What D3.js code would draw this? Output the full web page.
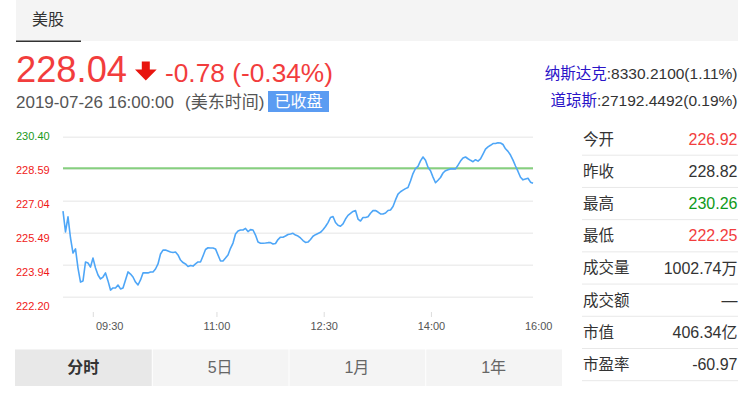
<!DOCTYPE html>
<html>
<head>
<meta charset="utf-8">
<script src="https://cdn.jsdelivr.net/npm/d3@7/dist/d3.min.js"></script>
<style>
  html, body { margin: 0; padding: 0; background: #fff; }
  svg { display: block; font-family: Arial, "Liberation Sans", "Noto Sans CJK SC", sans-serif; }
</style>
</head>
<body>
<svg id="chart" width="749" height="394"></svg>
<script>
// ---------- DATA ----------
const tabTitle = "美股";
const lastPrice = "228.04";
const change = "-0.78 (-0.34%)";
const dateText = "2019-07-26 16:00:00";
const tzText = "(美东时间)";
const statusText = "已收盘";
const indexNames = ["纳斯达克", "道琼斯"];
const indexValues = [":8330.2100(1.11%)", ":27192.4492(0.19%)"];

const prevClose = 228.82;
const yDomain = [222.20, 230.40];
const yTickLabels = ["230.40", "228.59", "227.04", "225.49", "223.94", "222.20"];
const xTickLabels = ["09:30", "11:00", "12:30", "14:00", "16:00"];

const prices = [
  226.62, 225.55, 226.32, 225.24, 224.47, 224.68, 223.70, 222.98, 223.04, 224.01,
  223.96, 223.75, 224.21, 223.70, 223.34, 223.14, 223.24, 223.45, 223.04, 222.57,
  222.68, 222.68, 222.83, 222.63, 222.68, 223.09, 223.50, 223.39, 223.24, 222.98,
  222.83, 223.09, 223.45, 223.45, 223.45, 223.50, 223.50, 223.65, 223.91, 224.42,
  224.62, 224.62, 224.57, 224.52, 224.50, 224.52, 224.37, 224.11, 223.98, 223.91,
  223.78, 223.83, 223.80, 223.91, 224.01, 224.01, 224.32, 224.65, 224.74, 224.73,
  224.73, 224.68, 224.37, 224.06, 224.06, 224.21, 224.37, 224.71, 224.98, 225.44,
  225.60, 225.65, 225.65, 225.73, 225.57, 225.67, 225.65, 225.39, 225.03, 224.97,
  224.97, 224.98, 225.00, 225.00, 224.93, 224.96, 225.16, 225.28, 225.28, 225.34,
  225.42, 225.44, 225.48, 225.39, 225.34, 225.24, 225.11, 225.01, 225.03, 225.16,
  225.33, 225.41, 225.47, 225.53, 225.66, 225.83, 226.03, 226.29, 226.34, 226.03,
  225.89, 225.84, 225.96, 226.21, 226.40, 226.50, 226.60, 226.65, 226.21, 226.11,
  226.29, 226.29, 226.33, 226.51, 226.64, 226.65, 226.57, 226.47, 226.47, 226.52,
  226.65, 226.67, 226.85, 227.19, 227.49, 227.61, 227.69, 227.77, 227.83, 228.16,
  228.54, 228.80, 228.91, 229.19, 229.39, 229.22, 228.86, 228.69, 228.36, 228.07,
  228.20, 228.34, 228.57, 228.69, 228.74, 228.78, 228.79, 228.78, 228.97, 229.18,
  229.34, 229.39, 229.30, 229.22, 229.15, 229.25, 229.18, 229.29, 229.54, 229.79,
  229.91, 229.99, 230.08, 230.08, 230.12, 230.11, 230.03, 229.81, 229.68, 229.49,
  229.23, 228.93, 228.65, 228.35, 228.22, 228.26, 228.30, 228.10, 228.04
];

const statLabels = ["今开", "昨收", "最高", "最低", "成交量", "成交额", "市值", "市盈率"];
const statValues = ["226.92", "228.82", "230.26", "222.25", "1002.74万", "—", "406.34亿", "-60.97"];
const statColors = ["#f23d3d", "#333", "#0e9a1a", "#f23d3d", "#333", "#333", "#333", "#333"];

const tabs = ["分时", "5日", "1月", "1年"];

// ---------- DRAW ----------
const svg = d3.select("#chart");
const red = "#f23d3d";

// header bar
svg.append("rect").attr("x", 16).attr("y", 0).attr("width", 722).attr("height", 41).attr("fill", "#f4f4f4");
svg.append("rect").attr("x", 16).attr("y", 40.5).attr("width", 65).attr("height", 1.5).attr("fill", "#333");
svg.append("text").attr("x", 32).attr("y", 19).attr("dy", "0.35em")
  .attr("font-size", 16).attr("fill", "#333").text(tabTitle);

// price
svg.append("text").attr("x", 16).attr("y", 82)
  .attr("font-size", 37).attr("fill", red)
  .attr("textLength", 111).attr("lengthAdjust", "spacingAndGlyphs")
  .text(lastPrice);

// arrow
svg.append("path")
  .attr("d", "M141.8,61.5 L149.8,61.5 L149.8,69.5 L156.7,69.5 L145.8,80.5 L135,69.5 L141.8,69.5 Z")
  .attr("fill", "#e8150f");

svg.append("text").attr("x", 165).attr("y", 81.5)
  .attr("font-size", 25.5).attr("fill", red)
  .attr("textLength", 168).attr("lengthAdjust", "spacingAndGlyphs")
  .text(change);

// date line
svg.append("text").attr("x", 16).attr("y", 102).attr("dy", "0.35em")
  .attr("font-size", 17).attr("fill", "#555").text(dateText);
svg.append("text").attr("x", 185).attr("y", 102).attr("dy", "0.35em")
  .attr("font-size", 17).attr("fill", "#555").text(tzText);
svg.append("rect").attr("x", 268).attr("y", 91).attr("width", 61).attr("height", 21).attr("fill", "#5b9cf2");
svg.append("text").attr("x", 298.5).attr("y", 101.5).attr("dy", "0.35em")
  .attr("text-anchor", "middle").attr("font-size", 16).attr("fill", "#fff").text(statusText);

// indexes
const idxY = [73.5, 100.5];
indexNames.forEach((n, i) => {
  const t = svg.append("text").attr("x", 737.5).attr("y", idxY[i]).attr("dy", "0.35em")
    .attr("text-anchor", "end").attr("font-size", 15.5);
  t.append("tspan").attr("fill", "#2b14c8").text(n);
  t.append("tspan").attr("fill", "#333").text(indexValues[i]);
});

// chart scales
const x = d3.scaleLinear().domain([0, prices.length - 1]).range([63, 533]);
const y = d3.scaleLinear().domain(yDomain).range([297.3, 137.3]);

// gridlines
const gridVals = d3.range(6).map(i => yDomain[0] + i * (yDomain[1] - yDomain[0]) / 5);
svg.append("g").selectAll("line").data(gridVals).join("line")
  .attr("x1", 63).attr("x2", 533)
  .attr("y1", d => y(d)).attr("y2", d => y(d))
  .attr("stroke", "#eeeeee").attr("stroke-width", 1.6);

// y labels
const yLab = d3.scalePoint().domain(yTickLabels).range([135.7, 306]);
svg.append("g").selectAll("text").data(yTickLabels).join("text")
  .attr("x", 16).attr("y", d => yLab(d)).attr("dy", "0.35em")
  .attr("font-size", 11)
  .attr("fill", d => (+d > prevClose ? "#1a9a1a" : "#f01818"))
  .text(d => d);

// prev close line
svg.append("line").attr("x1", 63).attr("x2", 533)
  .attr("y1", y(prevClose)).attr("y2", y(prevClose))
  .attr("stroke", "#86cf7f").attr("stroke-width", 2);

// price line
svg.append("path").datum(prices)
  .attr("d", d3.line().x((d, i) => x(i)).y(d => y(d)))
  .attr("fill", "none").attr("stroke", "#4ea6f7").attr("stroke-width", 1.6)
  .attr("stroke-linejoin", "round");

// x axis
const xLab = d3.scalePoint().domain(xTickLabels).range([109.7, 538.7]);
const xg = svg.append("g");
xTickLabels.forEach((l, i) => {
  const px = xLab(l);
  if (i < xTickLabels.length - 1) {
    const tx = i === 0 ? px - 16.4 : px;
    xg.append("line").attr("x1", tx).attr("x2", tx).attr("y1", 312).attr("y2", 317)
      .attr("stroke", "#dddddd").attr("stroke-width", 1);
  }
  xg.append("text").attr("x", px).attr("y", 326.5).attr("dy", "0.35em")
    .attr("text-anchor", "middle").attr("font-size", 11).attr("fill", "#555").text(l);
});

// stats panel
const rowScale = d3.scaleBand().domain(statLabels).range([123, 380.7]);
const sg = svg.append("g");
statLabels.forEach((l, i) => {
  const top = rowScale(l), h = rowScale.bandwidth();
  sg.append("text").attr("x", 583).attr("y", top + h / 2).attr("dy", "0.35em")
    .attr("font-size", 15.5).attr("fill", "#333").text(l);
  sg.append("text").attr("x", 737.5).attr("y", top + h / 2).attr("dy", "0.35em")
    .attr("text-anchor", "end").attr("font-size", 16).attr("fill", statColors[i]).text(statValues[i]);
  sg.append("line").attr("x1", 582).attr("x2", 738)
    .attr("y1", top + h).attr("y2", top + h)
    .attr("stroke", "#e8e8e8").attr("stroke-width", 1);
});

// bottom tabs
const tabScale = d3.scaleBand().domain(tabs).range([15, 562]);
tabs.forEach((t, i) => {
  const tx = tabScale(t), w = tabScale.bandwidth();
  svg.append("rect").attr("x", tx + (i ? 1 : 0)).attr("y", 349.5)
    .attr("width", w - (i ? 1 : 0)).attr("height", 36.5)
    .attr("fill", i === 0 ? "#e8e8e8" : "#f4f4f4");
  svg.append("text").attr("x", tx + w / 2).attr("y", 367.5).attr("dy", "0.35em")
    .attr("text-anchor", "middle").attr("font-size", 16)
    .attr("font-weight", i === 0 ? "bold" : "normal")
    .attr("fill", i === 0 ? "#333" : "#666").text(t);
});
</script>
</body>
</html>
